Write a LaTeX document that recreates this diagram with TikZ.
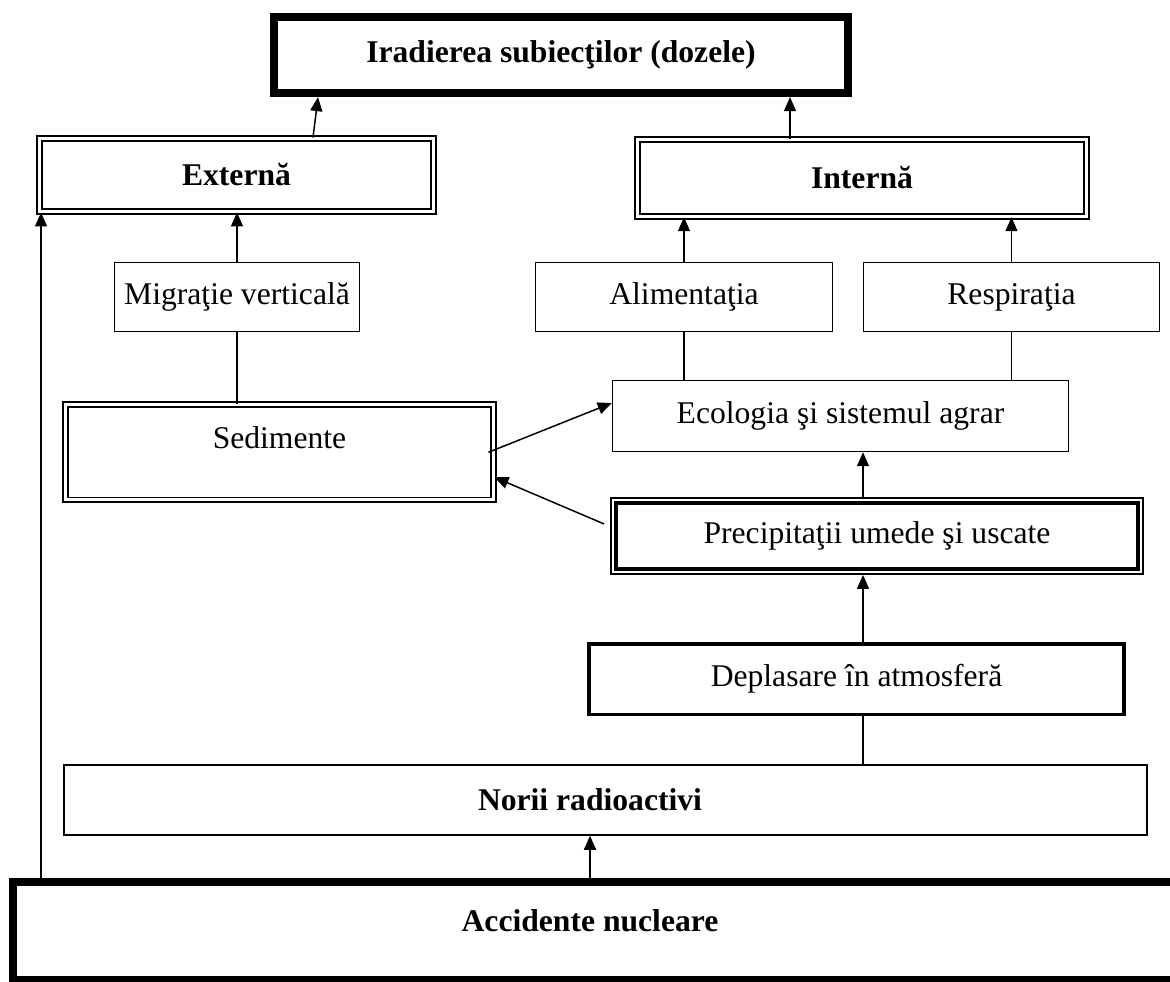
\documentclass[tikz,border=0pt]{standalone}
\usepackage{fontspec}
\setmainfont{Liberation Serif}
\usetikzlibrary{arrows.meta}

\begin{document}
\begin{tikzpicture}[x=0.02cm,y=-0.02cm,
	font=\fontsize{18}{21}\selectfont,
	bold/.style={font=\fontsize{18}{21}\selectfont\bfseries},
	box/.style={draw,line width=0.03cm,inner sep=0pt},
	dbox/.style={draw,double,line width=0.04cm,double distance=0.06cm,inner sep=0pt},
	tbox/.style={draw,line width=0.135cm,inner sep=0pt},
	arr/.style={-{Triangle[length=0.28cm,width=0.24cm]},line width=0.03cm}]
	\useasboundingbox (0,0) rectangle (1170,981);
	% top level
	\node[tbox,bold,minimum width=11.51cm,minimum height=1.55cm] (ir) at (561,55) {Iradierea subiecţilor (dozele)};
	\draw[line width=0.04cm] ([shift={(0.144cm,-0.144cm)}]ir.north west) rectangle ([shift={(-0.144cm,0.144cm)}]ir.south east);
	\node[dbox,bold,minimum width=7.88cm,minimum height=1.46cm] (ext) at (236.5,175) {Externă};
	\node[dbox,bold,minimum width=8.97cm,minimum height=1.53cm] (int) at (862,178) {Internă};
	% paths
	\node[box,minimum width=4.9cm,minimum height=1.38cm] (mig) at (237,297) {Migraţie verticală};
	\node[box,minimum width=5.94cm,minimum height=1.38cm] (ali) at (684,297) {Alimentaţia};
	\node[box,minimum width=5.92cm,minimum height=1.38cm] (res) at (1011.5,297) {Respiraţia};
	\node[dbox,minimum width=8.56cm,minimum height=1.91cm,text depth=0.6cm] (sed) at (279.5,452.25) {Sedimente};
	\node[box,minimum width=9.12cm,minimum height=1.42cm] (eco) at (840.5,416) {Ecologia şi sistemul agrar};
	\node[box,line width=0.035cm,minimum width=10.64cm,minimum height=1.52cm] (pre) at (877,536) {Precipitaţii umede şi uscate};
	\draw[line width=0.08cm] ([shift={(0.12cm,-0.12cm)}]pre.north west) rectangle ([shift={(-0.12cm,0.12cm)}]pre.south east);
	\node[box,line width=0.07cm,minimum width=10.71cm,minimum height=1.41cm] (dep) at (856.5,679) {Deplasare în atmosferă};
	% source
	\node[box,minimum width=21.66cm,minimum height=1.4cm] (nor) at (605.5,800) {};
	\node[bold] (nort) at (590,800) {Norii radioactivi};
	\node[box,line width=0.14cm,minimum width=23.35cm,minimum height=1.98cm] (acc) at (596.25,931) {};
	\draw[line width=0.04cm] ([shift={(0.14cm,-0.14cm)}]acc.north west) rectangle ([shift={(-0.14cm,0.14cm)}]acc.south east);
	\node[bold] (acct) at (590,921) {Accidente nucleare};
	% connectors
	\coordinate (spine) at (863,600);
	\coordinate (lx) at ([xshift=0.05cm]ext.south west);
	\coordinate (ea) at ([xshift=1.53cm]ext.north);
	\coordinate (eb) at ([xshift=-4.86cm]ir.south);
	\coordinate (ia) at ([xshift=-1.44cm]int.north);
	\draw[arr] (lx |- acc.north) -- (lx);
	\draw[arr] (mig.north) -- (mig.north |- ext.south);
	\draw[arr] (ea) -- (eb);
	\draw[arr] (ia) -- (ia |- ir.south);
	\draw[arr] (ali.north) -- (ali.north |- int.south);
	\draw[arr] (res.north) -- (res.north |- int.south);
	\draw[line width=0.03cm] (mig.south) -- (mig.south |- sed.north);
	\draw[line width=0.03cm] (ali.south) -- (ali.south |- eco.north);
	\draw[line width=0.03cm] (res.south) -- (res.south |- eco.north);
	\draw[arr] (spine |- pre.north) -- (spine |- eco.south);
	\draw[arr] (spine |- dep.north) -- (spine |- pre.south);
	\draw[line width=0.03cm] (spine |- nor.north) -- (spine |- dep.south);
	\draw[arr] (nort |- acc.north) -- (nort |- nor.south);
	\draw[arr] ([xshift=-0.12cm]sed.east) -- ([yshift=0.26cm]eco.west);
	\draw[arr] ([shift={(-0.12cm,0.24cm)}]pre.west) -- ([yshift=-0.5cm]sed.east);
\end{tikzpicture}
\end{document}
